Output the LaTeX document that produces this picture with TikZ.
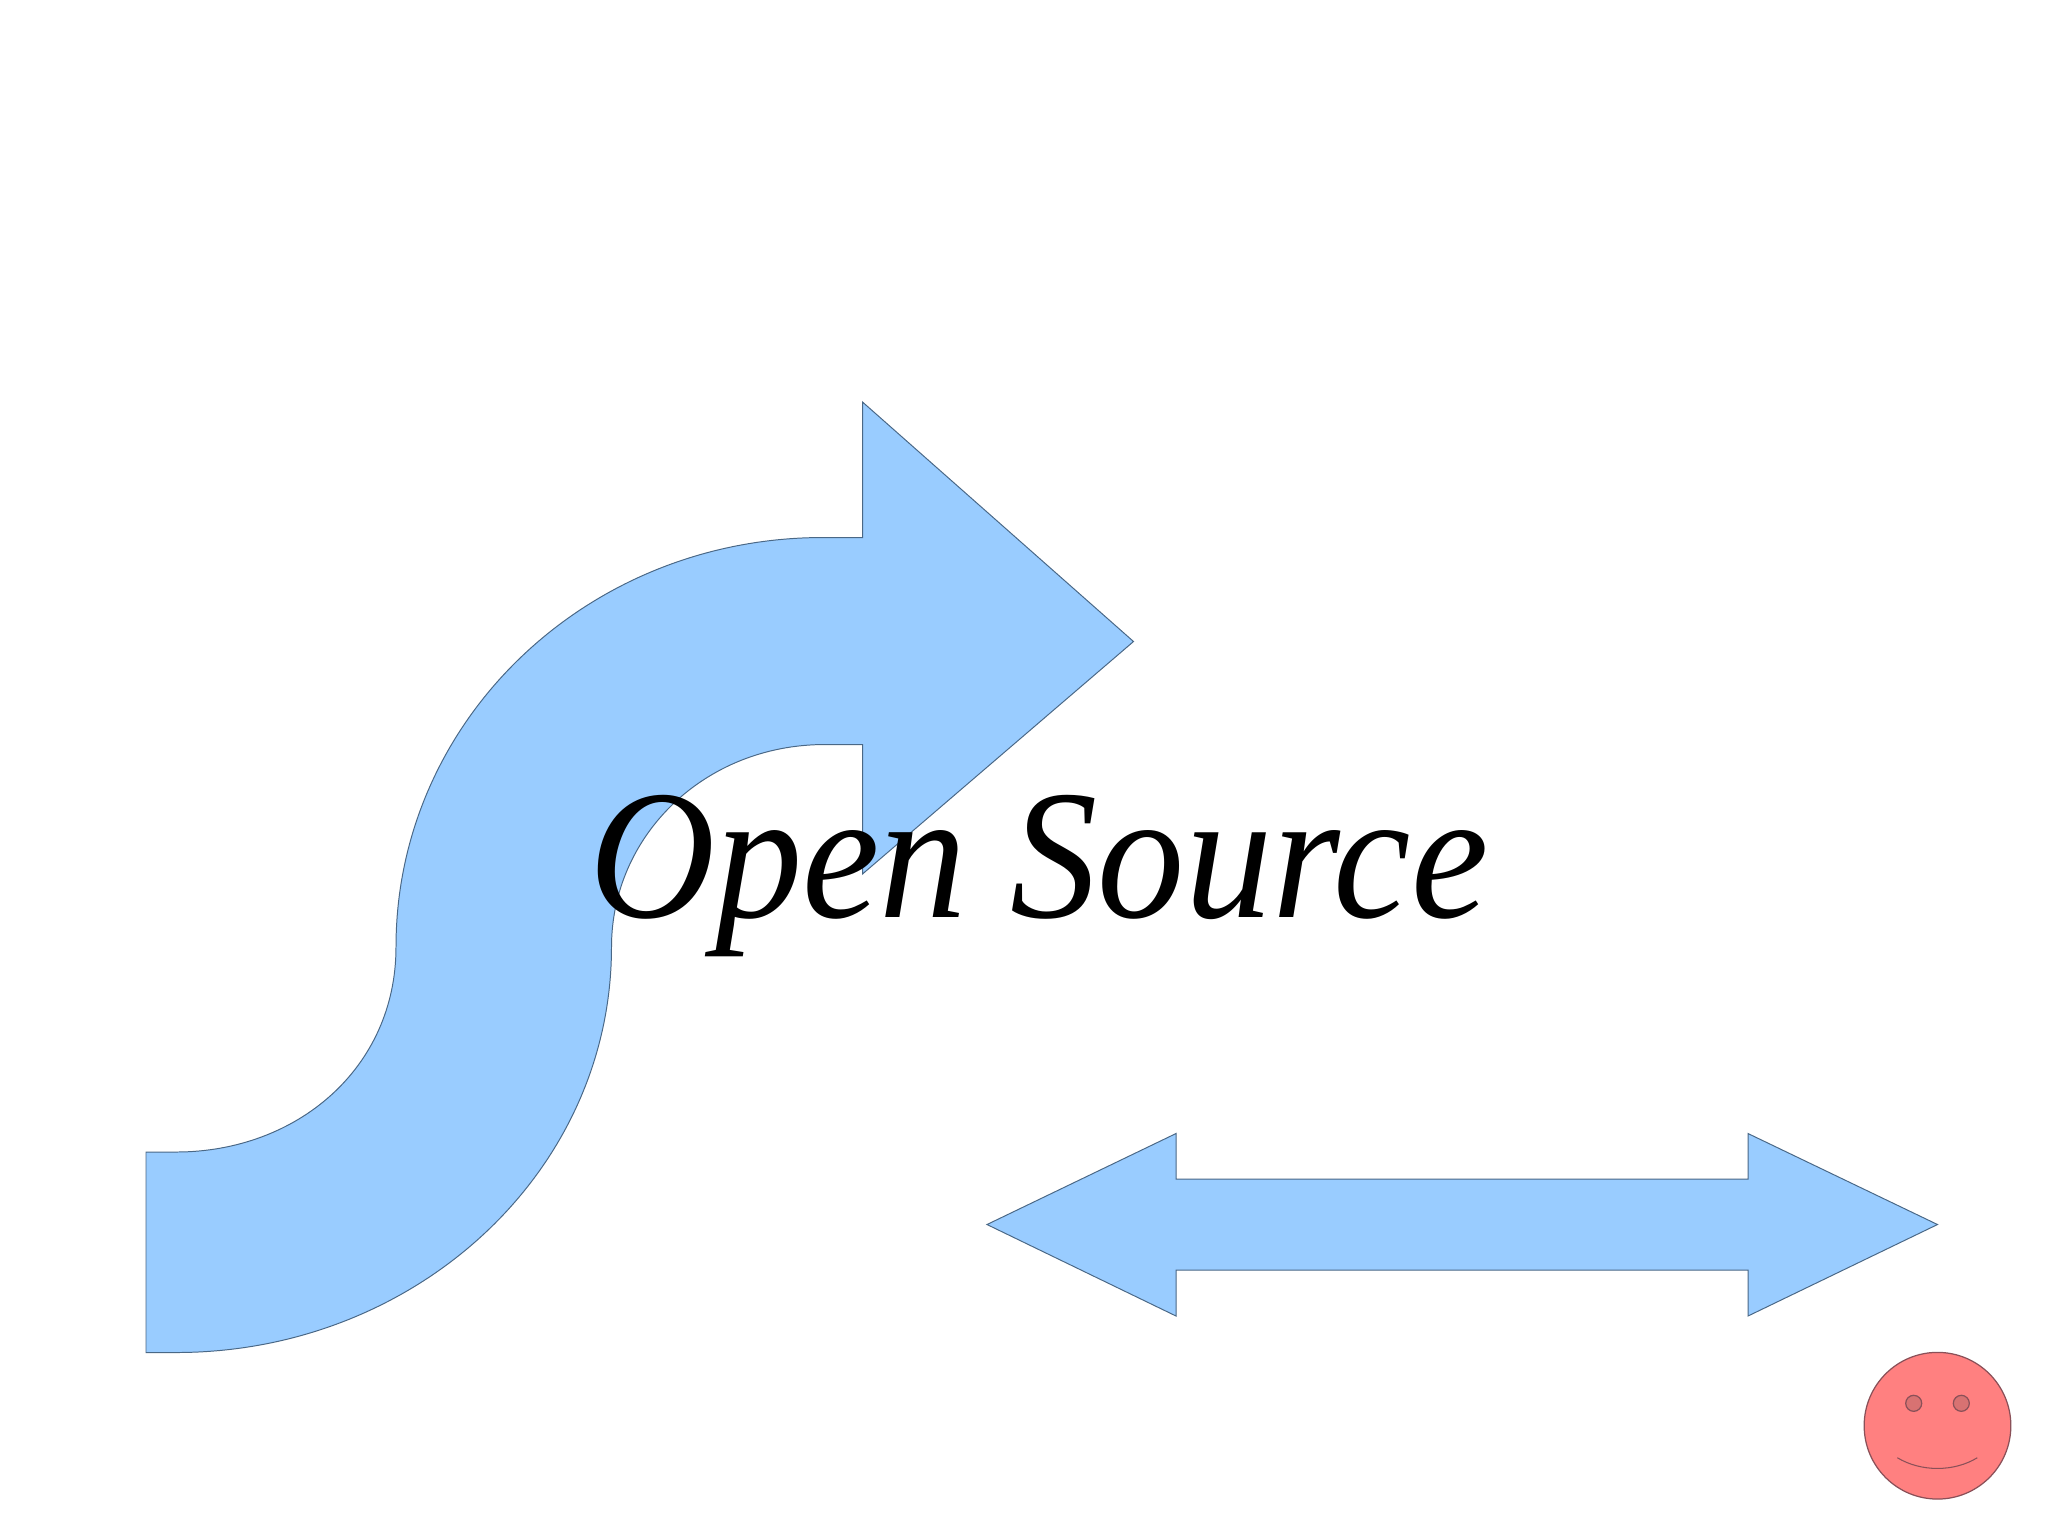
\documentclass[tikz,border=0pt]{standalone}
\usepackage{graphicx}
\usepackage{fontspec}
\setmainfont{Liberation Serif}
\definecolor{arrowfill}{HTML}{99CCFF}
\definecolor{arrowline}{HTML}{4A6886}
\definecolor{facefill}{HTML}{FF8080}
\definecolor{faceline}{HTML}{8A5058}
\definecolor{eyefill}{HTML}{D87272}
\tikzset{
  bluearrow/.style={draw=arrowline, fill=arrowfill, line width=0.28pt, line join=miter},
  facepart/.style={circle, draw=faceline, line width=0.35pt, inner sep=0pt},
  headline/.style={font=\fontsize{52.5}{52.5}\selectfont\itshape, text=black, inner sep=0pt, anchor=base}
}
\begin{document}
\begin{tikzpicture}[x=0.01cm, y=-0.01cm]
\useasboundingbox[fill=white] (0,0) rectangle (2048,1535);
\draw[bluearrow] (146,1152) -- (176,1152)
  .. controls (297,1152) and (396,1068) .. (396,947)
  .. controls (396,720) and (587,537.5) .. (823,537.5)
  -- (862.5,537.5) -- (862.5,402) -- (1133.5,641.5) -- (862.5,874) -- (862.5,744.5) -- (825,744.5)
  .. controls (704,744.5) and (611.5,836) .. (611.5,947)
  .. controls (611.5,1172) and (416,1352.5) .. (176,1352.5)
  -- (146,1352.5) -- cycle;
\draw[bluearrow] (987,1224.5) -- (1176,1133.5) -- (1176,1179) -- (1748,1179) -- (1748,1133.5) -- (1937.5,1224.5)
  -- (1748,1316) -- (1748,1270) -- (1176,1270) -- (1176,1316) -- cycle;
\node[headline] (title) at (1039,917) {\scalebox{0.945}[1]{Open Source}};
\node[facepart, fill=facefill, minimum size=1.466cm] (face) at (1937.5,1425.7) {};
\node[facepart, fill=eyefill, minimum size=0.16cm] (eyeleft) at (1913.7,1403.3) {};
\node[facepart, fill=eyefill, minimum size=0.16cm] (eyeright) at (1961.3,1403.3) {};
\coordinate (smileleft) at (1897.3,1457.7);
\coordinate (smileright) at (1977.3,1457.7);
\draw[draw=faceline, line width=0.3pt] (smileleft) .. controls (1921,1472) and (1954,1472) .. (smileright);
\end{tikzpicture}
\end{document}
